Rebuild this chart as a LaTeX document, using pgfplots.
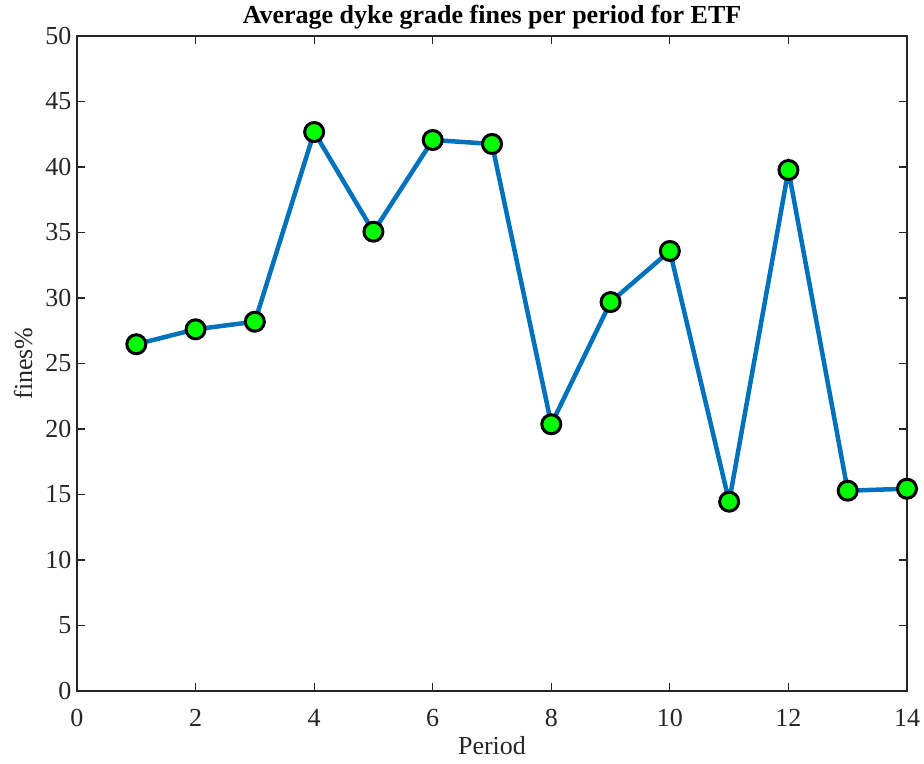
\documentclass[border=0pt]{standalone}
\usepackage{fontspec}
\setmainfont{Liberation Serif}
\usepackage{pgfplots}
\pgfplotsset{compat=1.18}
\definecolor{lineblue}{RGB}{0,114,189}
\definecolor{axgray}{RGB}{38,38,38}
\definecolor{markgreen}{RGB}{0,255,0}
\begin{document}
\begin{tikzpicture}
\begin{axis}[
  scale only axis,
  width=830pt, height=655pt,
  xmin=0, xmax=14, ymin=0, ymax=50,
  xtick={0,2,...,14}, ytick={0,5,...,50},
  tick align=inside,
  major tick length=8pt,
  clip=false,
  axis line style={axgray, line width=1.1pt},
  tick style={axgray, line width=1.1pt},
  /pgf/number format/assume math mode=true,
  every tick label/.append style={font=\fontsize{26}{30}\selectfont, text=axgray},
  xticklabel style={yshift=-15pt},
  yticklabel style={xshift=-2pt},
  title={\textbf{Average dyke grade fines per period for ETF}},
  title style={font=\fontsize{26}{30}\selectfont, at={(axis description cs:0.5,1.0092)}, anchor=base},
  xlabel={Period}, ylabel={fines\%},
  label style={font=\fontsize{26}{30}\selectfont, text=axgray},
  xlabel style={at={(axis description cs:0.5,-0.0977)}, anchor=base},
  ylabel style={at={(axis description cs:-0.0542,0.5)}, rotate=0, anchor=base},
]
\addplot[
  color=lineblue, line width=4.5pt,
  mark=*, mark size=9.5pt,
  mark options={fill=markgreen, draw=black, line width=3pt},
] coordinates {
  (1,26.47) (2,27.61) (3,28.19) (4,42.67) (5,35.06) (6,42.06) (7,41.76)
  (8,20.36) (9,29.69) (10,33.59) (11,14.45) (12,39.77) (13,15.29) (14,15.44)
};
\coordinate (boxsw) at (rel axis cs:0,0);
\coordinate (boxne) at (rel axis cs:1,1);
\end{axis}
\pgfresetboundingbox
\path[use as bounding box] ([shift={(-77pt,-73pt)}]boxsw) rectangle ([shift={(17pt,36pt)}]boxne);
\end{tikzpicture}
\end{document}
